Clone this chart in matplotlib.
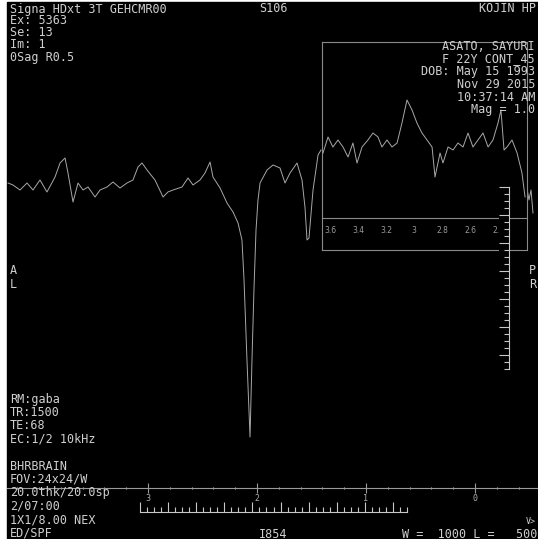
import matplotlib
matplotlib.use("Agg")
import matplotlib.pyplot as plt
from matplotlib.patches import Rectangle
from matplotlib.ticker import MultipleLocator

W, H = 538, 539

# spectrum (ppm, a.u.)
main_ppm = [4.284, 4.239, 4.174, 4.110, 4.055, 3.991, 3.927, 3.853, 3.807, 3.761,
            3.734, 3.688, 3.642, 3.596, 3.550, 3.486, 3.440, 3.376, 3.321, 3.257,
            3.193, 3.138, 3.092, 3.055, 3.009, 2.936, 2.862, 2.817, 2.771, 2.688,
            2.633, 2.587, 2.523, 2.477, 2.431, 2.404, 2.339, 2.275, 2.220, 2.174,
            2.138, 2.119, 2.092, 2.064, 2.046, 2.028, 2.009, 1.991, 1.972, 1.908,
            1.853, 1.789, 1.743, 1.697, 1.633, 1.587, 1.560, 1.541, 1.523, 1.486,
            1.440, 1.413]
main_int = [2, 0, -5, 2, -5, 5, -7, 8, 22, 27,
            12, -17, 2, -5, -2, -12, -5, -2, 3, -3,
            2, 5, 18, 22, 15, 5, -12, -7, -5, -2,
            7, 0, 5, 12, 23, 8, -3, -18, -27, -38,
            -55, -95, -175, -252, -175, -105, -45, -15, 2, 15,
            20, 17, 2, 12, 22, 5, -22, -55, -53, -5,
            30, 35]
tail_ppm = [-0.477, -0.495, -0.514, -0.532]
tail_int = [-3, -15, -5, -28]

# zoomed inset 3.6 - 2.2 ppm
inset_ppm = [3.650, 3.614, 3.579, 3.543, 3.507, 3.471, 3.436, 3.407, 3.371, 3.329,
             3.293, 3.257, 3.229, 3.193, 3.157, 3.121, 3.086, 3.050, 3.014, 2.979,
             2.943, 2.907, 2.871, 2.850, 2.814, 2.793, 2.757, 2.721, 2.686, 2.650,
             2.614, 2.579, 2.543, 2.507, 2.471, 2.436, 2.400, 2.379, 2.357, 2.336,
             2.300, 2.264, 2.229, 2.207]
inset_int = [-6, 10, 0, 7, 0, -10, 4, -16, 0, 7,
             14, 10, 0, 7, 0, 4, 24, 47, 37, 24,
             14, 7, 0, -30, -6, -16, 0, -3, 4, 0,
             14, 0, 7, 14, 0, 7, 24, 37, -3, 0,
             7, -6, -26, -50]

main_ticks = [3, 2, 1, 0]
inset_ticks = [3.6, 3.4, 3.2, 3.0, 2.8, 2.6, 2.4]

top_left = ["Signa HDxt 3T GEHCMR00", "Ex: 5363", "Se: 13", "Im: 1", "0Sag R0.5"]
top_right = ["ASATO, SAYURI", "F 22Y CONT_45", "DOB: May 15 1993",
             "Nov 29 2015", "10:37:14 AM", "Mag = 1.0"]
bottom_left = ["RM:gaba", "TR:1500", "TE:68", "EC:1/2 10kHz", "",
               "BHRBRAIN", "FOV:24x24/W", "20.0thk/20.0sp", "2/07:00",
               "1X1/8.00 NEX", "ED/SPF"]

TXT = "#cfcfcf"
LINE = "#a8a8a8"
MONO = "DejaVu Sans Mono"


def fx(x):
    return x / W


def fy(y):
    return 1 - y / H


fig = plt.figure(figsize=(W / 100, H / 100), dpi=100, facecolor="white")
fig.add_artist(Rectangle((fx(7), 0), 1, fy(2), transform=fig.transFigure,
                         color="black", zorder=-10))

# main spectrum axes, ppm axis on the bottom spine
ax = fig.add_axes([fx(7), fy(488), fx(531), (488 - 2) / H])
ax.set_facecolor("none")
ax.plot(main_ppm, main_int, color=LINE, lw=0.7)
ax.plot(tail_ppm, tail_int, color=LINE, lw=0.7)
ax.set_xlim(4.2936, -0.578)
ax.set_ylim(-303, 183)
for s in ["top", "left", "right"]:
    ax.spines[s].set_visible(False)
ax.spines["bottom"].set_color("#9a9a9a")
ax.spines["bottom"].set_linewidth(0.8)
ax.set_yticks([])
ax.set_xticks(main_ticks)
ax.set_xticklabels([str(t) for t in main_ticks], family=MONO)
ax.xaxis.set_minor_locator(MultipleLocator(0.2))
ax.tick_params(axis="x", which="major", direction="inout", length=7, width=0.8,
               color="#9a9a9a", labelcolor="#b0b0b0", labelsize=6, pad=1)
ax.tick_params(axis="x", which="minor", direction="inout", length=2, width=0.8,
               color="#bdbdbd")

# inset box
box = fig.add_axes([fx(322), fy(250), fx(205), 208 / H], zorder=3)
box.set_facecolor("black")
box.set_xticks([])
box.set_yticks([])
for s in box.spines.values():
    s.set_color("#8a8a8a")
    s.set_linewidth(0.8)

ins = fig.add_axes([fx(322), fy(218), fx(205), 176 / H], zorder=4)
ins.set_facecolor("none")
ins.plot(inset_ppm, inset_int, color=LINE, lw=0.7)
ins.set_xlim(3.657, 2.193)
ins.set_ylim(-71, 105)
for s in ["top", "left", "right"]:
    ins.spines[s].set_visible(False)
ins.spines["bottom"].set_color("#8a8a8a")
ins.spines["bottom"].set_linewidth(0.8)
ins.set_yticks([])
ins.set_xticks(inset_ticks)
ins.set_xticklabels(["%g" % t for t in inset_ticks])
ins.set_xticks([3.0], minor=True)
ins.tick_params(axis="x", which="major", length=0, labelsize=5.5,
                labelcolor="#9a9a9a", pad=6)
ins.tick_params(axis="x", which="minor", direction="in", length=4, width=0.8,
                color="#8a8a8a")

# vertical distance ruler
vr = fig.add_axes([fx(499), fy(369), fx(10), 182 / H], zorder=6)
vr.set_facecolor("black")
vr.set_ylim(26, 0)
vr.set_xticks([])
for s in ["top", "left", "bottom"]:
    vr.spines[s].set_visible(False)
vr.spines["right"].set_color("#c8c8c8")
vr.spines["right"].set_linewidth(0.8)
vr.yaxis.set_major_locator(MultipleLocator(4))
vr.yaxis.set_minor_locator(MultipleLocator(1))
vr.tick_params(axis="y", which="both", left=False, right=True, direction="in",
               labelleft=False, labelright=False, color="#c8c8c8", width=0.8)
vr.tick_params(axis="y", which="major", length=7.2)
vr.tick_params(axis="y", which="minor", length=3.6)

# horizontal distance ruler
hr = fig.add_axes([fx(140), fy(512), fx(267), 12 / H], zorder=6)
hr.set_facecolor("none")
hr.set_xlim(0, 38)
hr.set_yticks([])
for s in ["top", "left", "right"]:
    hr.spines[s].set_visible(False)
hr.spines["bottom"].set_color("#c8c8c8")
hr.spines["bottom"].set_linewidth(0.8)
hr.xaxis.set_major_locator(MultipleLocator(4))
hr.xaxis.set_minor_locator(MultipleLocator(1))
hr.tick_params(axis="x", which="both", direction="in", labelbottom=False,
               color="#c8c8c8", width=0.8)
hr.tick_params(axis="x", which="major", length=7.2)
hr.tick_params(axis="x", which="minor", length=3.6)


def put(x, y, s, ha="left", size=8.5, z=10):
    fig.text(fx(x), fy(y), s, ha=ha, va="center", family=MONO, size=size,
             color=TXT, zorder=z)


for i, s in enumerate(top_left):
    put(10, 9 + 12 * i, s)
put(259, 9, "S106")
put(536, 9, "KOJIN HP", ha="right")
for i, s in enumerate(top_right):
    put(535, 46 + 12.8 * i, s, ha="right")
put(10, 270, "A")
put(10, 284, "L")
put(529, 270, "P")
put(529, 285, "R")
for i, s in enumerate(bottom_left):
    if s:
        put(10, 399 + 13.4 * i, s)
put(273, 534, "I854", ha="center")
put(537, 534, "W =  1000 L =   500", ha="right")
put(531, 521, "V>", ha="center", size=6)

fig.savefig("out.png", dpi=100, facecolor=fig.get_facecolor())
